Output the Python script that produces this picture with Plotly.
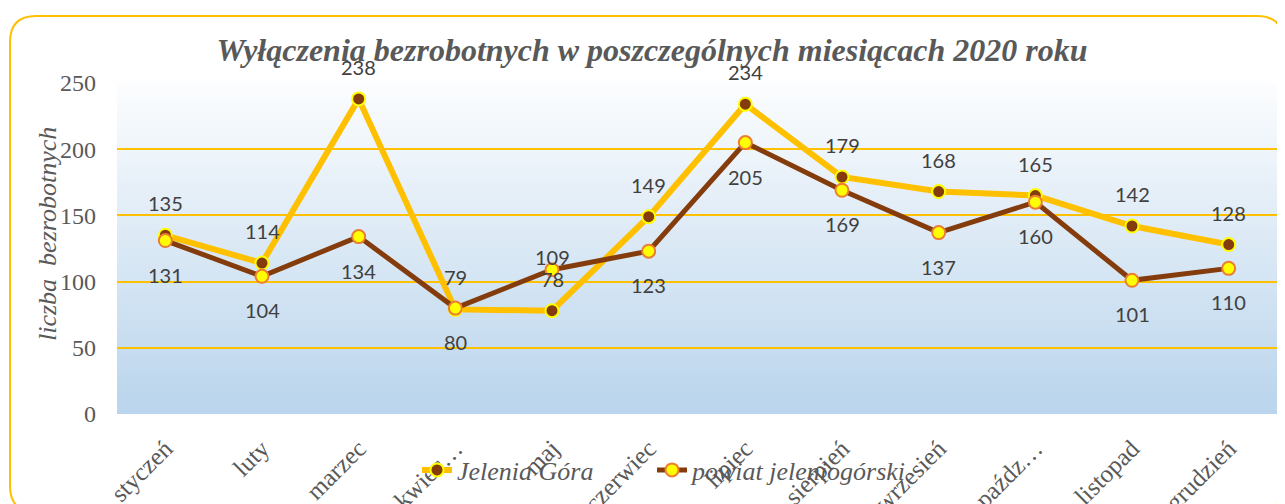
import plotly.graph_objects as go

months = ["styczeń", "luty", "marzec", "kwiecień", "maj", "czerwiec", "lipiec",
          "sierpień", "wrzesień", "październik", "listopad", "grudzień"]
month_ticks = ["styczeń", "luty", "marzec", "kwiec…", "maj", "czerwiec", "lipiec",
               "sierpień", "wrzesień", "paźdz…", "listopad", "grudzień"]
jelenia_gora = [135, 114, 238, 79, 78, 149, 234, 179, 168, 165, 142, 128]
powiat = [131, 104, 134, 80, 109, 123, 205, 169, 137, 160, 101, 110]
y_ticks = [0, 50, 100, 150, 200, 250]

# page has an 8px body margin; figure coordinates = page coordinates - 8
OFF = 8
W, H = 1285 - OFF, 504 - OFF
L, R, T = 117 - OFF, 1285 - 1277, 83 - OFF
B = H - (414 - OFF)
PW, PH = W - L - R, H - T - B

def px(x):  # page pixel -> paper x
    return (x - OFF - L) / PW

def py(y):  # page pixel -> paper y
    return (H - B - (y - OFF)) / PH

SERIF = "Liberation Serif"
GREY = "#595959"
GOLD = "#FFC000"
BROWN = "#843C0C"

fig = go.Figure()
fig.add_trace(go.Scatter(
    x=months, y=jelenia_gora, name="Jelenia Góra", mode="lines+markers",
    line=dict(color=GOLD, width=6),
    marker=dict(size=13, color=BROWN, line=dict(color="#FFFF00", width=2)),
))
fig.add_trace(go.Scatter(
    x=months, y=powiat, name="powiat jeleniogórski", mode="lines+markers",
    line=dict(color=BROWN, width=5),
    marker=dict(size=13, color="#FFFF00", line=dict(color="#ED7D31", width=2)),
))
# invisible spacer entry so the legend is wide enough to show the full second name
fig.add_trace(go.Scatter(
    x=[None], y=[None], name=" ", mode="lines",
    line=dict(color="rgba(0,0,0,0)", width=0), hoverinfo="skip", showlegend=True,
))

annotations = []
lab_font = dict(family="Lato", size=20, color="#404040")
for m, v in zip(months, jelenia_gora):
    annotations.append(dict(x=m, y=v, text=str(v), showarrow=False, yshift=32,
                            yanchor="middle", font=lab_font))
for i, (m, v) in enumerate(zip(months, powiat)):
    shift = 13 if i == 4 else -34
    annotations.append(dict(x=m, y=v, text=str(v), showarrow=False, yshift=shift,
                            yanchor="middle", font=lab_font))
annotations.append(dict(xref="paper", yref="paper", x=px(47), y=py(234),
                        text="liczba  bezrobotnych", textangle=-90, showarrow=False,
                        xanchor="center", yanchor="middle",
                        font=dict(family=SERIF, size=26, color=GREY, style="italic")))

shapes = []
N = 80
top = (252, 253, 254)
bot = (185, 212, 236)
for k in range(N):
    f = (k + 0.5) / N
    c = tuple(round(top[j] + (bot[j] - top[j]) * f) for j in range(3))
    shapes.append(dict(type="rect", xref="paper", yref="paper",
                       x0=0, x1=1, y0=1 - (k + 1) / N, y1=1 - k / N + 0.002,
                       fillcolor="rgb(%d,%d,%d)" % c, line=dict(width=0), layer="below"))

x0, y0, x1, y1, r = 10, 16, 1283, 512, 26
def P(x, y):
    return "%.5f,%.5f" % (px(x), py(y))
path = ("M" + P(x0 + r, y0) + " L" + P(x1 - r, y0) + " Q" + P(x1, y0) + " " + P(x1, y0 + r) +
        " L" + P(x1, y1 - r) + " Q" + P(x1, y1) + " " + P(x1 - r, y1) +
        " L" + P(x0 + r, y1) + " Q" + P(x0, y1) + " " + P(x0, y1 - r) +
        " L" + P(x0, y0 + r) + " Q" + P(x0, y0) + " " + P(x0 + r, y0) + " Z")
shapes.append(dict(type="path", xref="paper", yref="paper", path=path,
                   line=dict(color=GOLD, width=2), layer="above"))

fig.update_layout(
    width=W, height=H,
    margin=dict(l=L, r=R, t=T, b=B, autoexpand=False),
    paper_bgcolor="white", plot_bgcolor="rgba(0,0,0,0)",
    title=dict(text="Wyłączenia bezrobotnych w poszczególnych miesiącach 2020 roku",
               x=(652 - OFF) / W, xanchor="center", y=1 - (50 - OFF) / H, yanchor="middle",
               yref="container",
               font=dict(family=SERIF, size=32, color=GREY, style="italic", weight="bold")),
    xaxis=dict(type="category", range=[-0.5, 11.5], tickvals=months, ticktext=month_ticks,
               tickangle=-45, showgrid=False, showline=False, ticks="",
               tickfont=dict(family=SERIF, size=25, color=GREY), ticklabelstandoff=14),
    yaxis=dict(range=[0, 250], tickvals=y_ticks, showgrid=True, gridcolor=GOLD, gridwidth=2,
               zeroline=False, showline=False, ticks="",
               tickfont=dict(family=SERIF, size=24, color=GREY), ticklabelstandoff=20),
    legend=dict(orientation="h", x=px(417), xanchor="left", y=py(470), yanchor="middle",
                font=dict(family=SERIF, size=26, color=GREY, style="italic"),
                bgcolor="rgba(0,0,0,0)", entrywidth=190, itemwidth=30),
    shapes=shapes, annotations=annotations, showlegend=True,
)
fig.write_html("out.html")
